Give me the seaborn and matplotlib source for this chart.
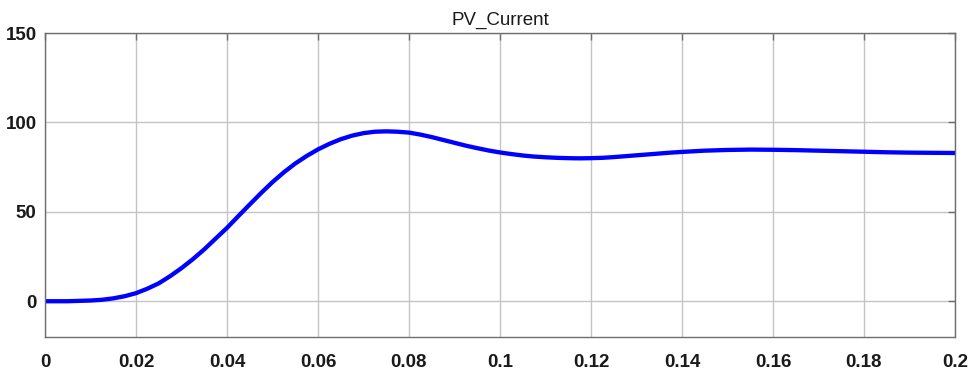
import numpy as np
import pandas as pd
import matplotlib
matplotlib.use("Agg")
import matplotlib.pyplot as plt
import seaborn as sns

# Simulated PV current response (time in s, current in A)
time_s = [0.0000, 0.0050, 0.0100, 0.0125, 0.0150, 0.0175, 0.0200, 0.0225,
          0.0250, 0.0275, 0.0300, 0.0325, 0.0350, 0.0375, 0.0400, 0.0425,
          0.0450, 0.0475, 0.0500, 0.0525, 0.0550, 0.0575, 0.0600, 0.0625,
          0.0650, 0.0675, 0.0700, 0.0725, 0.0750, 0.0775, 0.0800, 0.0825,
          0.0850, 0.0875, 0.0900, 0.0925, 0.0950, 0.0975, 0.1000, 0.1025,
          0.1050, 0.1075, 0.1100, 0.1125, 0.1150, 0.1175, 0.1200, 0.1225,
          0.1250, 0.1275, 0.1300, 0.1325, 0.1350, 0.1375, 0.1400, 0.1450,
          0.1500, 0.1550, 0.1600, 0.1650, 0.1700, 0.1750, 0.1800, 0.1850,
          0.1900, 0.1950, 0.2000]
pv_current = [0.0, 0.0, 0.4, 0.8, 1.6, 2.8, 4.5, 7.0,
              10.0, 14.0, 18.5, 23.5, 29.0, 35.0, 41.0, 47.6,
              54.1, 60.5, 66.6, 72.1, 77.0, 81.2, 84.9, 88.0,
              90.6, 92.6, 94.0, 94.8, 95.0, 94.8, 94.3, 93.2,
              91.8, 90.2, 88.6, 87.0, 85.6, 84.3, 83.2, 82.3,
              81.5, 80.9, 80.5, 80.2, 80.0, 79.9, 80.0, 80.2,
              80.6, 81.1, 81.6, 82.1, 82.6, 83.1, 83.5, 84.2,
              84.6, 84.8, 84.7, 84.5, 84.2, 83.9, 83.6, 83.3,
              83.1, 83.0, 82.9]
x_ticks = [0, 0.02, 0.04, 0.06, 0.08, 0.1, 0.12, 0.14, 0.16, 0.18, 0.2]
x_tick_labels = ["0", "0.02", "0.04", "0.06", "0.08", "0.1", "0.12", "0.14",
                 "0.16", "0.18", "0.2"]
y_ticks = [0, 50, 100, 150]

df = pd.DataFrame({"t": time_s, "i": pv_current})

sns.set_style("white")
plt.rcParams["font.family"] = ["Liberation Sans", "DejaVu Sans"]

fig = plt.figure(figsize=(9.71, 3.70), dpi=100)
ax = fig.add_axes([0.0463, 0.0892, 0.9372, 0.8216])

sns.lineplot(data=df, x="t", y="i", ax=ax, color="#0000ff", linewidth=3.1,
             solid_joinstyle="round", solid_capstyle="round")

ax.set_xlim(0, 0.2)
ax.set_ylim(-20, 150)
ax.set_xticks(x_ticks)
ax.set_xticklabels(x_tick_labels)
ax.set_yticks(y_ticks)
ax.set_xlabel("")
ax.set_ylabel("")

ax.grid(True, color="#c4c4c4", linewidth=1.0)
ax.set_axisbelow(True)
for side in ["left", "right", "top", "bottom"]:
    ax.spines[side].set_visible(True)
    ax.spines[side].set_color("#6e6e6e")
    ax.spines[side].set_linewidth(1.0)

ax.tick_params(axis="both", which="both", direction="in", length=5,
               width=1.0, color="#6e6e6e", top=True, right=True,
               labelsize=13.5, pad=12)
ax.tick_params(axis="y", pad=6)
for lab in ax.get_xticklabels() + ax.get_yticklabels():
    lab.set_fontweight("bold")
    lab.set_color("#1a1a1a")

ax.set_title("PV_Current", fontsize=13.5, color="#1a1a1a", pad=6)

fig.savefig("out.png", dpi=100, facecolor="white")
